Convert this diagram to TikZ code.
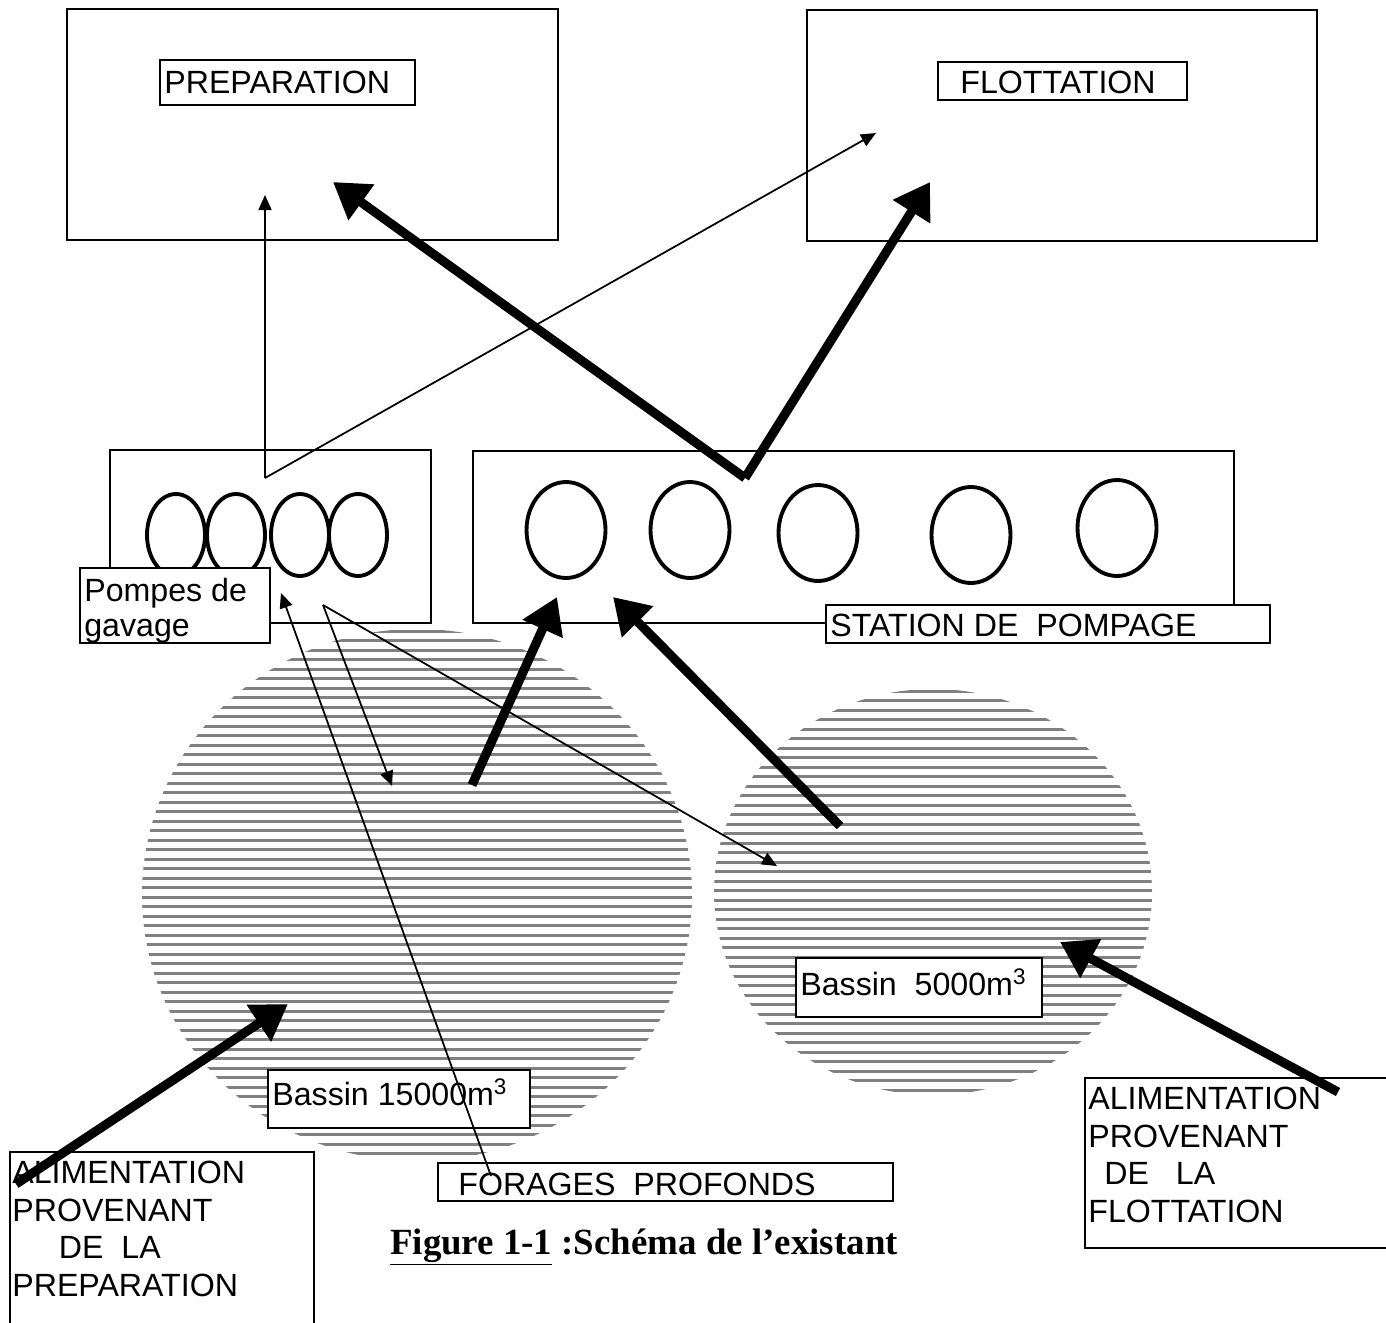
\documentclass[tikz,border=0pt]{standalone}
\usepackage{fontspec}
\setmainfont{Liberation Sans}
\newfontfamily\capfont{Liberation Serif}
\usetikzlibrary{arrows.meta,shapes.geometric,fit}
\begin{document}
\begin{tikzpicture}[x=0.02cm,y=-0.02cm,
  bigbox/.style={draw, line width=1pt, inner sep=0pt},
  lblbox/.style={draw, line width=0.6pt, inner sep=0pt, fill=white},
  lbl/.style={font=\fontsize{18.3}{21.3}\selectfont, inner sep=0pt, anchor=west},
  mlbl/.style={font=\fontsize{18.3}{21.3}\selectfont, inner sep=0pt, anchor=north west, align=left},
  pumpS/.style={draw, ellipse, line width=2.2pt, inner sep=0pt, minimum width=1.16cm, minimum height=1.64cm},
  pumpL/.style={draw, ellipse, line width=2.2pt, inner sep=0pt, minimum width=1.58cm, minimum height=1.92cm},
  thinarr/.style={line width=1pt, -{Triangle[length=0.3cm,width=0.26cm]}},
  thickarr/.style={line width=5.2pt, -{Triangle[length=0.7cm,width=0.84cm]}},
  hatch/.style={line width=1.7pt, black!50}
]
\useasboundingbox (0,0) rectangle (1386,1322);
\fill[white] (0,0) rectangle (1386,1322);

% hatched basins
\node[ellipse, minimum width=11cm, minimum height=10.64cm, inner sep=0pt] (b15) at (417,895) {};
\node[ellipse, minimum width=8.76cm, minimum height=8.1cm, inner sep=0pt] (b5) at (933,892) {};
\begin{scope}
  \clip (417,895) ellipse [x radius=275, y radius=266];
  \foreach \yy in {631,640.5,...,1162} \draw[hatch] (140,\yy) -- (694,\yy);
\end{scope}
\begin{scope}
  \clip (933,892) ellipse [x radius=219, y radius=203];
  \foreach \yy in {691,700.5,...,1096} \draw[hatch] (712,\yy) -- (1154,\yy);
\end{scope}

% main boxes
\node[bigbox, fit={(67,9) (558,240)}] (prep) {};
\node[bigbox, fit={(807,10) (1317,241)}] (flot) {};
\node[lblbox, fit={(160,60) (415,105)}] (prepL) {};
\node[lbl] at (164,82) {PREPARATION};
\node[lblbox, fit={(938,62) (1187,100)}] (flotL) {};
\node[lbl] at (960,82) {FLOTTATION};

\node[bigbox, fit={(110,450) (431,623)}] (gav) {};
\node[bigbox, fit={(473,451) (1234,623)}] (stat) {};

% pumps
\node[pumpS] (g1) at (176,535) {};
\node[pumpS] (g2) at (236,535) {};
\node[pumpS] (g3) at (300,535) {};
\node[pumpS] (g4) at (358,535) {};
\node[pumpL] (s1) at (566,530) {};
\node[pumpL] (s2) at (690,530) {};
\node[pumpL] (s3) at (818,533) {};
\node[pumpL] (s4) at (971,535) {};
\node[pumpL] (s5) at (1117,528) {};

% labels
\node[lblbox, fit={(80,568) (270,643)}] (gavL) {};
\node[mlbl, font=\fontsize{18.3}{20}\selectfont] at (84,578) {Pompes de\\gavage};
\node[lblbox, fit={(826,605) (1270,643)}] (statL) {};
\node[lbl] at (830,625) {STATION DE\ \ POMPAGE};
\node[lblbox, fit={(268,1070) (530,1128)}] (b15L) {};
\node[lbl] at (272,1092) {Bassin 15000m\textsuperscript{3}};
\node[lblbox, fit={(796,958) (1042,1017)}] (b5L) {};
\node[lbl] at (800,982) {Bassin\ \ 5000m\textsuperscript{3}};
\node[lblbox, fit={(438,1163) (893,1201)}] (forL) {};
\node[lbl] at (458,1184) {FORAGES\ \ PROFONDS};

\node[bigbox, fit={(10,1152) (314,1340)}] (alimP) {};
\node[mlbl] at (12,1161) {ALIMENTATION\\PROVENANT\\\hspace*{1.45em}DE\ \ LA\\PREPARATION};
\node[bigbox, fit={(1085,1078) (1392,1248)}] (alimF) {};
\node[mlbl] at (1088,1087) {ALIMENTATION\\PROVENANT\\\hspace*{0.5em}DE\ \ \ LA\\FLOTTATION};

% caption
\node[inner sep=0pt, font=\capfont\bfseries\fontsize{21}{25}\selectfont] (cap) at (644,1247) {\underline{Figure 1-1} :Schéma de l’existant};

% coordinates for arrows
\coordinate (vG) at (265,478);
\coordinate (tPrepThin) at (265,195);
\coordinate (tFlotThin) at (876,133);
\coordinate (vS) at (745,478);
\coordinate (tPrepThick) at (333,182);
\coordinate (tFlotThick) at (930,182);
\coordinate (fStart) at (491,1176);
\coordinate (tGav1) at (281,593);
\coordinate (vF) at (323,605);
\coordinate (tB15) at (392,786);
\coordinate (tB5) at (777,866);
\coordinate (b15s) at (472,785);
\coordinate (tS1) at (557,597);
\coordinate (b5s) at (840,826);
\coordinate (tS2) at (613,597);
\coordinate (aFs) at (1338,1092);
\coordinate (tB5r) at (1060,942);
\coordinate (aPs) at (16,1184);
\coordinate (tB15l) at (288,1004);

% thin arrows
\draw[thinarr] (vG) -- (tPrepThin);
\draw[thinarr] (vG) -- (tFlotThin);
\draw[thinarr] (fStart) -- (tGav1);
\draw[thinarr] (vF) -- (tB15);
\draw[thinarr] (vF) -- (tB5);

% thick arrows
\draw[thickarr] (vS) -- (tPrepThick);
\draw[thickarr] (vS) -- (tFlotThick);
\draw[thickarr] (b15s) -- (tS1);
\draw[thickarr] (b5s) -- (tS2);
\draw[thickarr] (aFs) -- (tB5r);
\draw[thickarr] (aPs) -- (tB15l);
\end{tikzpicture}
\end{document}
